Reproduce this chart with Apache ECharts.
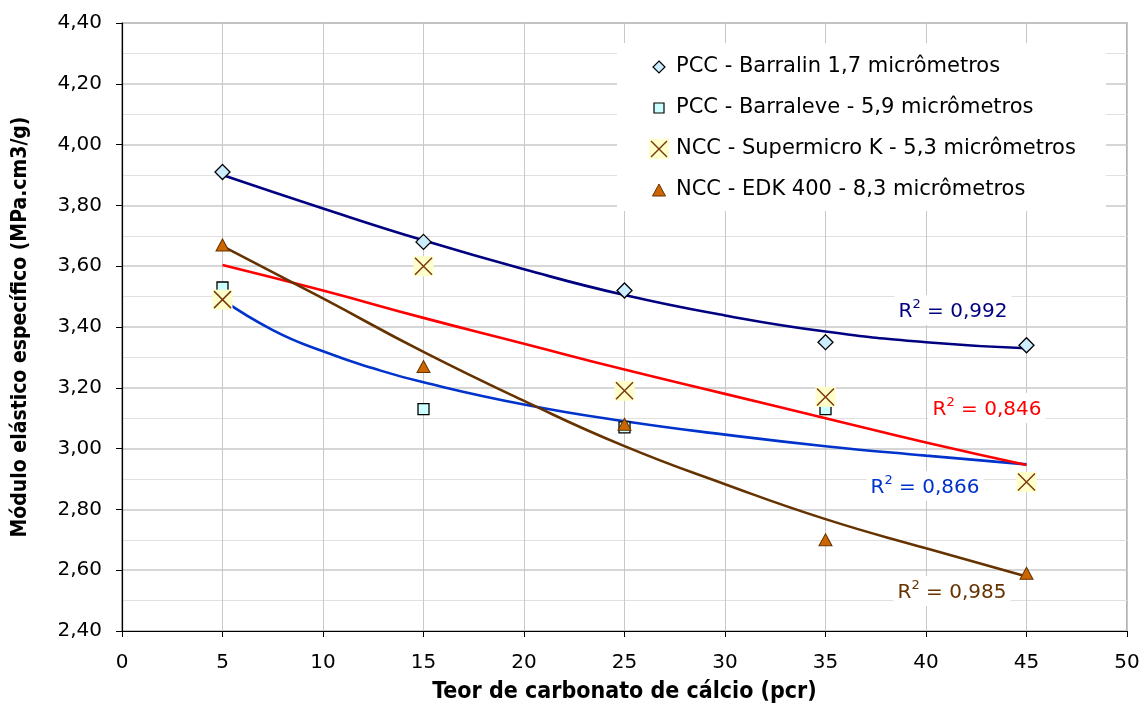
<!DOCTYPE html>
<html>
<head>
<meta charset="utf-8">
<script src="https://cdn.jsdelivr.net/npm/echarts@6/dist/echarts.min.js"></script>
<style>
  html, body { margin: 0; padding: 0; background: #ffffff; }
  #chart { width: 1145px; height: 709px; }
</style>
</head>
<body>
<div id="chart"></div>
<script>
// ---- data ----
const xValues = [5, 15, 25, 35, 45];
const barralin = [3.91, 3.68, 3.52, 3.35, 3.34];
const barraleve = [3.53, 3.13, 3.07, 3.13, 2.89];
const supermicro = [3.49, 3.60, 3.19, 3.17, 2.89];
const edk = [3.67, 3.27, 3.08, 2.70, 2.59];

// trendline curves at these x
const trendX = [5, 10, 15, 20, 25, 30, 35, 40, 45];
const trendBarralin = [3.90, 3.79, 3.685, 3.59, 3.505, 3.438, 3.385, 3.35, 3.33];
const trendSupermicro = [3.604, 3.52, 3.43, 3.345, 3.26, 3.18, 3.10, 3.02, 2.946];
const trendEdk = [3.666, 3.494, 3.318, 3.157, 3.008, 2.883, 2.768, 2.672, 2.579];
const trendXBarraleve = [5, 7.5, 10, 12.5, 15, 20, 25, 30, 35, 40, 45];
const trendBarraleve = [3.49, 3.39, 3.32, 3.264, 3.218, 3.145, 3.09, 3.046, 3.008, 2.977, 2.948];

const seriesNames = [
  'PCC - Barralin 1,7 micrômetros',
  'PCC - Barraleve - 5,9 micrômetros',
  'NCC - Supermicro K - 5,3 micrômetros',
  'NCC - EDK 400 - 8,3 micrômetros'
];
const r2Labels = ['0,992', '0,866', '0,846', '0,985'];

const xTitle = 'Teor de carbonato de cálcio (pcr)';
const yTitle = 'Módulo elástico específico (MPa.cm3/g)';

// ---- helpers ----
const pairs = (xs, ys) => xs.map((x, i) => [x, ys[i]]);
const FONT = 'DejaVu Sans';

const chart = echarts.init(document.getElementById('chart'), null, { renderer: 'canvas' });

function r2Text(label, color, cx, cy) {
  return {
    type: 'text',
    x: cx, y: cy,
    z: 50,
    style: {
      text: '{a|R}{b|2}{a| = ' + label + '}',
      align: 'center',
      verticalAlign: 'middle',
      fill: color,
      backgroundColor: '#ffffff',
      padding: [3, 4, 3, 4],
      rich: {
        a: { fontSize: 20, fontFamily: FONT, fill: color, lineHeight: 24, verticalAlign: 'bottom' },
        b: { fontSize: 13, fontFamily: FONT, fill: color, lineHeight: 24, verticalAlign: 'top' }
      }
    }
  };
}

const legendLeft = 617, legendTop = 43;
const rowY = [67, 108, 149, 190];
const iconX = 659, textX = 676;
const legendText = (i) => ({
  type: 'text', x: textX, y: rowY[i], z: 41,
  style: { text: seriesNames[i], fill: '#000', font: '21px "DejaVu Sans"', align: 'left', verticalAlign: 'middle' }
});

const graphic = [
  { type: 'rect', z: 40, shape: { x: legendLeft, y: legendTop, width: 489, height: 168 }, style: { fill: '#ffffff' } },
  // diamond icon
  { type: 'polygon', z: 41, shape: { points: [[iconX, rowY[0] - 6], [iconX + 6, rowY[0]], [iconX, rowY[0] + 6], [iconX - 6, rowY[0]]] },
    style: { fill: '#CCECFF', stroke: '#000', lineWidth: 1.2 } },
  legendText(0),
  // square icon
  { type: 'rect', z: 41, shape: { x: iconX - 5, y: rowY[1] - 5, width: 10, height: 10 },
    style: { fill: '#CCFFFF', stroke: '#000', lineWidth: 1.2 } },
  legendText(1),
  // X icon
  { type: 'rect', z: 41, shape: { x: iconX - 10, y: rowY[2] - 10, width: 20, height: 20 }, style: { fill: '#FFFFCC' } },
  { type: 'line', z: 42, shape: { x1: iconX - 8, y1: rowY[2] - 8, x2: iconX + 8, y2: rowY[2] + 8 }, style: { stroke: '#7a3a0a', lineWidth: 1.5 } },
  { type: 'line', z: 42, shape: { x1: iconX + 8, y1: rowY[2] - 8, x2: iconX - 8, y2: rowY[2] + 8 }, style: { stroke: '#7a3a0a', lineWidth: 1.5 } },
  legendText(2),
  // triangle icon
  { type: 'polygon', z: 41, shape: { points: [[iconX, rowY[3] - 6], [iconX + 6.5, rowY[3] + 6], [iconX - 6.5, rowY[3] + 6]] },
    style: { fill: '#CC6600', stroke: '#663300', lineWidth: 1 } },
  legendText(3),
  r2Text(r2Labels[0], '#000080', 953, 310),
  r2Text(r2Labels[2], '#FF0000', 987, 408),
  r2Text(r2Labels[1], '#0033CC', 925, 486),
  r2Text(r2Labels[3], '#663300', 952, 591)
];

const trendSeries = (name, xs, ys, color) => ({
  name: name, type: 'line', data: pairs(xs, ys), smooth: 0.5,
  showSymbol: false, symbol: 'none', silent: true, z: 3,
  lineStyle: { color: color, width: 2.6 }
});

const option = {
  animation: false,
  backgroundColor: '#ffffff',
  grid: { left: 122, right: 18, top: 23, bottom: 78, show: true, borderColor: '#999999', borderWidth: 1.5, backgroundColor: 'transparent' },
  xAxis: {
    type: 'value', min: 0, max: 50, interval: 5,
    name: xTitle, nameLocation: 'middle', nameGap: 50,
    nameTextStyle: { fontFamily: 'DejaVu Sans Condensed', fontWeight: 'bold', fontSize: 23, color: '#000' },
    axisLine: { show: true, onZero: false, lineStyle: { color: '#000', width: 1.2 } },
    axisTick: { show: true, inside: false, length: 6, lineStyle: { color: '#000' } },
    axisLabel: { fontFamily: FONT, fontSize: 20, color: '#000', margin: 22 },
    splitLine: { show: true, lineStyle: { color: '#c8c8c8', width: 1 } }
  },
  yAxis: {
    type: 'value', min: 2.4, max: 4.4, interval: 0.2,
    name: yTitle, nameLocation: 'middle', nameGap: 91,
    nameTextStyle: { fontFamily: 'DejaVu Sans Condensed', fontWeight: 'bold', fontSize: 21, color: '#000' },
    axisLine: { show: true, lineStyle: { color: '#000', width: 1.2 } },
    axisTick: { show: true, inside: false, length: 6, lineStyle: { color: '#000' } },
    axisLabel: { fontFamily: FONT, fontSize: 20, color: '#000', margin: 20,
      formatter: (v) => v.toFixed(2).replace('.', ',') },
    splitLine: { show: true, lineStyle: { color: '#c8c8c8', width: 1.6 } },
    minorTick: { show: false, splitNumber: 2 },
    minorSplitLine: { show: true, lineStyle: { color: '#e0e0e0', width: 1 } }
  },
  graphic: graphic,
  series: [
    trendSeries('trend-barralin', trendX, trendBarralin, '#000080'),
    trendSeries('trend-barraleve', trendXBarraleve, trendBarraleve, '#0033CC'),
    trendSeries('trend-supermicro', trendX, trendSupermicro, '#FF0000'),
    trendSeries('trend-edk', trendX, trendEdk, '#663300'),
    { name: seriesNames[0], type: 'scatter', data: pairs(xValues, barralin), symbol: 'diamond', symbolSize: 15, silent: true, z: 4,
      itemStyle: { color: '#CCECFF', borderColor: '#000', borderWidth: 1.3, opacity: 1 } },
    { name: seriesNames[1], type: 'scatter', data: pairs(xValues, barraleve), symbol: 'rect', symbolSize: 11, silent: true, z: 4,
      itemStyle: { color: '#CCFFFF', borderColor: '#000', borderWidth: 1.3, opacity: 1 } },
    { name: seriesNames[2], type: 'scatter', data: pairs(xValues, supermicro), symbol: 'rect', symbolSize: 20, silent: true, z: 4,
      itemStyle: { color: '#FFFFCC', borderWidth: 0, opacity: 1 } },
    { name: seriesNames[2] + ' X', type: 'scatter', data: pairs(xValues, supermicro), symbol: 'path://M0,0L10,10M10,0L0,10', symbolSize: 17, silent: true, z: 4,
      itemStyle: { color: 'rgba(0,0,0,0)', borderColor: '#7a3a0a', borderWidth: 1.5, opacity: 1 } },
    { name: seriesNames[3], type: 'scatter', data: pairs(xValues, edk), symbol: 'triangle', symbolSize: [13, 12], silent: true, z: 4,
      itemStyle: { color: '#CC6600', borderColor: '#663300', borderWidth: 1, opacity: 1 } }
  ]
};
chart.setOption(option);
</script>
</body>
</html>
